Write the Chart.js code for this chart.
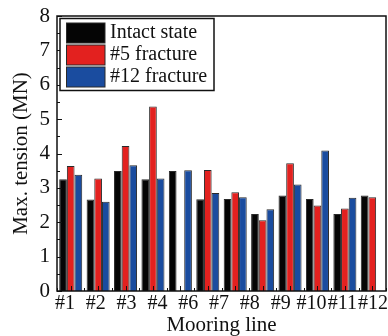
<!DOCTYPE html>
<html>
<head>
<meta charset="utf-8">
<title>Max. tension</title>
<script src="https://cdn.jsdelivr.net/npm/chart.js@4.4.1/dist/chart.umd.min.js"></script>
<style>
  html, body { margin: 0; padding: 0; background: #fff; }
  canvas { display: block; }
</style>
</head>
<body>
<canvas id="tensionChart" width="388" height="336"></canvas>
<script>
// one bar group per mooring line
const lines = ['#1', '#2', '#3', '#4', '#5', '#6', '#7', '#8', '#9', '#10', '#11', '#12'];
// labels printed under the axis (#5 is not printed)
const tickLabels = ['#1', '#2', '#3', '#4', '#6', '#7', '#8', '#9', '#10', '#11', '#12'];

// max. tension in MN
const intactState = [3.25, 2.66, 3.49, 3.25, 3.49, 2.67, 2.68, 2.24, 2.78, 2.68, 2.24, 2.78];
const fracture5 = [3.64, 3.27, 4.22, 5.37, null, 3.52, 2.87, 2.06, 3.72, 2.49, 2.40, 2.73];
const fracture12 = [3.38, 2.60, 3.66, 3.27, 3.51, 2.85, 2.73, 2.38, 3.10, 4.09, 2.71, null];

const seriesNames = ['Intact state', '#5 fracture', '#12 fracture'];
const seriesColors = ['#050505', '#e3211f', '#1a4c9f'];

const serif = "'Liberation Serif', 'Times New Roman', serif";
const ink = '#111';

// plot frame, inward ticks and the boxed legend
const framePlugin = {
    id: 'frame',
    afterDatasetsDraw(chart) {
        const { ctx, chartArea: a, scales } = chart;
        ctx.save();
        ctx.strokeStyle = ink;
        ctx.lineWidth = 1;

        for (let v = 0; v <= 8; v += 0.5) {
            const y = Math.round(scales.y.getPixelForValue(v)) + 0.5;
            const len = Number.isInteger(v) ? 5 : 3;
            ctx.beginPath();
            ctx.moveTo(a.left, y);
            ctx.lineTo(a.left + len, y);
            ctx.stroke();
        }

        for (let i = 0; i <= lines.length; i++) {
            const edge = Math.round(scales.x.getPixelForValue(i - 0.5)) + 0.5;
            ctx.beginPath();
            ctx.moveTo(edge, a.bottom);
            ctx.lineTo(edge, a.bottom - 3);
            ctx.stroke();
            if (i < lines.length) {
                const mid = Math.round(scales.x.getPixelForValue(i)) + 0.5;
                ctx.beginPath();
                ctx.moveTo(mid, a.bottom);
                ctx.lineTo(mid, a.bottom - 5);
                ctx.stroke();
            }
        }

        ctx.lineWidth = 1.5;
        ctx.strokeRect(a.left, a.top, a.right - a.left, a.bottom - a.top);

        // legend
        const box = { x: 60, y: 18.5, w: 154, h: 72 };
        ctx.lineWidth = 1.5;
        ctx.fillStyle = '#fff';
        ctx.fillRect(box.x, box.y, box.w, box.h);
        ctx.strokeRect(box.x, box.y, box.w, box.h);
        ctx.font = '20px ' + serif;
        ctx.textBaseline = 'middle';
        ctx.textAlign = 'left';
        chart.data.datasets.forEach((ds, i) => {
            const cy = box.y + 14.5 + i * 22;
            ctx.fillStyle = ds.backgroundColor;
            ctx.fillRect(66.5, cy - 10, 38.5, 20);
            ctx.lineWidth = 1;
            ctx.strokeStyle = '#2a2a2a';
            ctx.strokeRect(66.5, cy - 10, 38.5, 20);
            ctx.fillStyle = ink;
            ctx.fillText(ds.label, 110, cy);
        });
        ctx.restore();
    }
};

const datasets = [intactState, fracture5, fracture12].map((values, i) => ({
    label: seriesNames[i],
    data: values,
    backgroundColor: seriesColors[i],
    borderColor: '#2a2a2a',
    borderWidth: 1,
    categoryPercentage: 0.84,
    barPercentage: 1.0,
    xAxisID: 'x',
    yAxisID: 'y'
}));

new Chart(document.getElementById('tensionChart').getContext('2d'), {
    type: 'bar',
    data: { labels: lines, datasets },
    plugins: [framePlugin],
    options: {
        responsive: false,
        animation: false,
        devicePixelRatio: 1,
        layout: { padding: { top: 16, right: 2, bottom: 0, left: 0 } },
        plugins: {
            legend: { display: false },
            tooltip: { enabled: false }
        },
        scales: {
            x: {
                type: 'category',
                display: false,
                offset: true,
                afterFit: s => { s.height = 0; s.paddingLeft = 0; s.paddingRight = 0; }
            },
            // printed labels sit on their own evenly spaced axis
            x2: {
                type: 'linear',
                position: 'bottom',
                offset: false,
                bounds: 'data',
                min: -0.26,
                max: 10.42,
                grid: { display: false, drawTicks: false, offset: false },
                border: { display: false },
                afterBuildTicks: s => { s.ticks = tickLabels.map((_, i) => ({ value: i })); },
                ticks: {
                    autoSkip: false,
                    maxRotation: 0,
                    padding: 3,
                    color: ink,
                    font: { family: serif, size: 20, lineHeight: 1 },
                    callback: v => tickLabels[v] ?? ''
                },
                title: {
                    display: true,
                    text: 'Mooring line',
                    color: ink,
                    padding: 0,
                    font: { family: serif, size: 21, lineHeight: 1 }
                },
                afterFit: s => { s.height = 45; s.paddingLeft = 0; s.paddingRight = 0; }
            },
            y: {
                min: 0,
                max: 8,
                grid: { display: false, drawTicks: false },
                border: { display: false },
                ticks: {
                    stepSize: 1,
                    padding: 7,
                    color: ink,
                    font: { family: serif, size: 21, lineHeight: 1 }
                },
                title: {
                    display: true,
                    text: 'Max. tension (MN)',
                    color: ink,
                    padding: { top: 11, bottom: 0 },
                    font: { family: serif, size: 21, lineHeight: 1 }
                },
                afterFit: s => { s.width = 57; s.paddingTop = 0; s.paddingBottom = 0; }
            }
        }
    }
});
</script>
</body>
</html>
